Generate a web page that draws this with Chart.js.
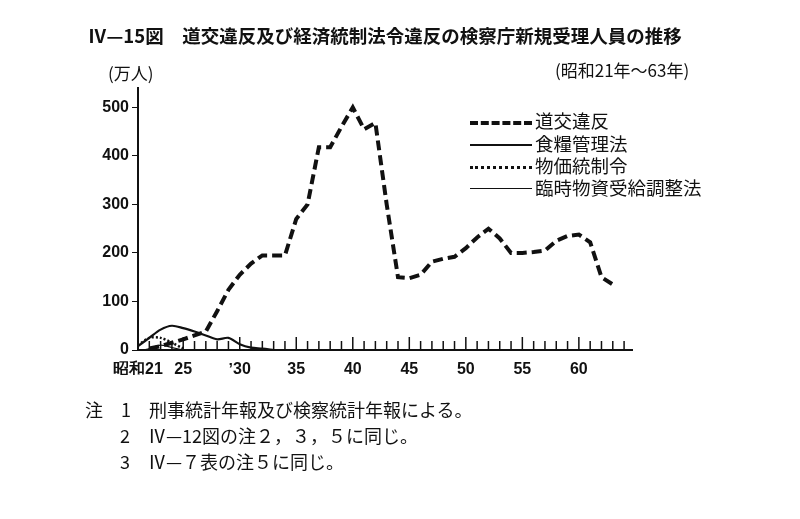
<!DOCTYPE html>
<html><head><meta charset="utf-8">
<script src="https://cdn.jsdelivr.net/npm/chart.js@4/dist/chart.umd.min.js"></script>
<style>
body{margin:0;width:800px;height:519px;background:#fff;font-family:"Noto Sans CJK JP",sans-serif;color:#111;position:relative;overflow:hidden}
.t{position:absolute;white-space:nowrap;line-height:1.2}
.lg{position:absolute;left:470px;width:62px;height:0}
</style></head><body>
<canvas id="c" width="800" height="519" style="position:absolute;left:0;top:0"></canvas>
<div class="t" style="left:88px;top:24px;font-size:18.5px;font-weight:bold">Ⅳ—15図　道交違反及び経済統制法令違反の検察庁新規受理人員の推移</div>
<div class="t" style="left:108px;top:63px;font-size:17px">(万人)</div>
<div class="t" style="left:555px;top:60px;font-size:17px">(昭和21年〜63年)</div>
<div class="lg" style="top:121px;border-top:4px dashed #111"></div>
<div class="lg" style="top:144px;border-top:2.5px solid #111"></div>
<div class="lg" style="top:166px;border-top:3px dotted #111"></div>
<div class="lg" style="top:188px;border-top:1.2px solid #111"></div>
<div class="t" style="left:535px;top:109px;font-size:18.5px">道交違反</div>
<div class="t" style="left:535px;top:132px;font-size:18.5px">食糧管理法</div>
<div class="t" style="left:535px;top:154px;font-size:18.5px">物価統制令</div>
<div class="t" style="left:535px;top:176px;font-size:18.5px">臨時物資受給調整法</div>
<div class="t" style="left:85px;top:399px;font-size:18px">注　1　刑事統計年報及び検察統計年報による。</div>
<div class="t" style="left:120px;top:425px;font-size:18px">2　Ⅳ—12図の注２，３，５に同じ。</div>
<div class="t" style="left:120px;top:451px;font-size:18px">3　Ⅳ—７表の注５に同じ。</div>
<script>
const years = [21,22,23,24,25,26,27,28,29,30,31,32,33,34,35,36,37,38,39,40,41,42,43,44,45,46,47,48,49,50,51,52,53,54,55,56,57,58,59,60,61,62,63];
const traffic = [null,3,8,15,22,30,38,80,124,155,178,195,195,195,270,300,418,418,460,500,455,468,300,150,148,155,182,188,192,210,232,250,230,200,200,202,205,225,235,238,222,150,135];
const foodYears = [21,22,23,24,25,26,27,28,29,30,31,32,33];
const food = [8,25,42,50,45,38,30,22,25,12,5,3,0];
const priceYears = [21,22,23,24,25];
const price = [10,25,25,15,3];
const tempYears = [21.5,22,23,24,25];
const temp = [0,3,10,5,0];
const labelYears = {21:'昭和21',25:'25',30:'ʼ30',35:'35',40:'40',45:'45',50:'50',55:'55',60:'60'};
const yTicks = [0,100,200,300,400,500];
const pts = (xs,ys)=>xs.map((x,i)=>({x:x,y:ys[i]}));
const tickPlugin={id:'tk',afterDraw(ch){const s=ch.scales.x,c=ch.ctx,b=ch.chartArea.bottom;c.save();c.strokeStyle='#111';c.lineWidth=1.5;
for(let y=22;y<=64;y++){const p=s.getPixelForValue(y);const h=(y%5===0)?13:9;c.beginPath();c.moveTo(p,b);c.lineTo(p,b-h);c.stroke();}c.restore();}};
new Chart(document.getElementById('c'),{type:'line',
data:{datasets:[
{data:pts(years,traffic),borderColor:'#111',borderWidth:4,borderDash:[10,5],pointRadius:0,tension:0,spanGaps:true},
{data:pts(foodYears,food),borderColor:'#111',borderWidth:2.2,pointRadius:0,tension:0.3},
{data:pts(priceYears,price),borderColor:'#111',borderWidth:2.5,borderDash:[2,2],pointRadius:0,tension:0.3},
{data:pts(tempYears,temp),borderColor:'#111',borderWidth:1.2,pointRadius:0,tension:0.3}]},
plugins:[tickPlugin],
options:{responsive:false,animation:false,layout:{padding:{left:80,top:88,right:168,bottom:144}},
plugins:{legend:{display:false},tooltip:{enabled:false}},
scales:{
x:{type:'linear',min:21,max:64.7,afterFit(a){a.height=25},grid:{display:false},border:{color:'#111',width:2},
 afterBuildTicks(a){a.ticks=Object.keys(labelYears).map(v=>({value:+v}))},
 ticks:{autoSkip:false,maxRotation:0,color:'#111',font:{size:16,family:'Liberation Sans Narrow, Liberation Sans',weight:'bold'},padding:2,callback:v=>labelYears[v]||''}},
y:{min:0,max:540,afterFit(a){a.width=58},grid:{drawOnChartArea:false,tickLength:6,color:'#111'},border:{color:'#111',width:2},
 afterBuildTicks(a){a.ticks=yTicks.map(v=>({value:v}))},
 ticks:{color:'#111',font:{size:16,family:'Liberation Sans Narrow, Liberation Sans',weight:'bold'},padding:3}}}}});
</script></body></html>
